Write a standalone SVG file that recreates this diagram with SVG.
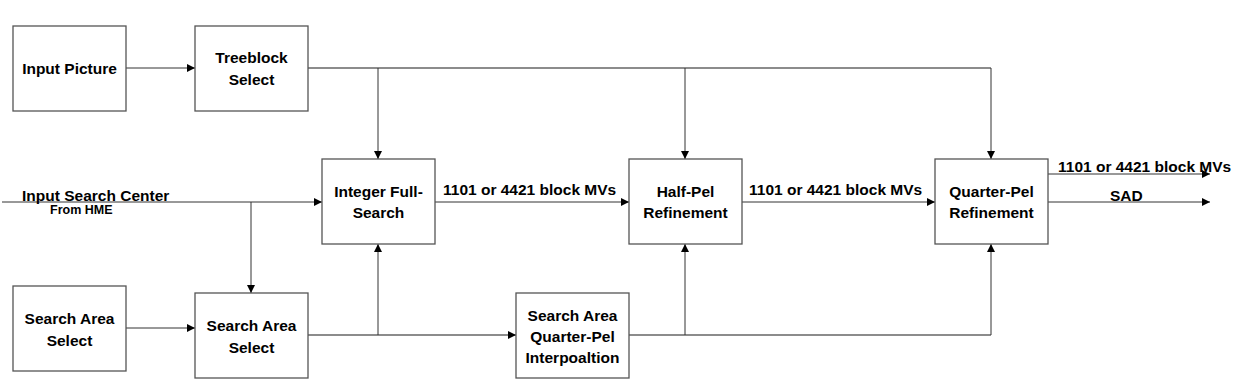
<svg xmlns="http://www.w3.org/2000/svg" width="1248" height="383" viewBox="0 0 1248 383">
<style>
.box{fill:#fff;stroke:#555;stroke-width:1.3}
.t{font-family:"Liberation Sans",Arial,sans-serif;font-weight:bold;font-size:15.5px;fill:#000;text-anchor:middle}
.l{font-family:"Liberation Sans",Arial,sans-serif;font-weight:bold;font-size:15.5px;fill:#000}
.s{font-family:"Liberation Sans",Arial,sans-serif;font-weight:bold;font-size:12.5px;fill:#000}
.c{fill:none;stroke:#333;stroke-width:1}
.g{fill:none;stroke:#666;stroke-width:1.3}
</style>
<defs>
<marker id="a" viewBox="0 0 10 10" refX="10" refY="5" markerWidth="8" markerHeight="8" markerUnits="userSpaceOnUse" orient="auto">
<path d="M0,0L10,5L0,10z" fill="#000"/>
</marker>
</defs>
<rect width="1248" height="383" fill="#fff"/>
<g id="connectors">
<path class="c" d="M126,68H195" marker-end="url(#a)"/>
<path class="g" d="M308,68H991"/>
<path class="c" d="M378,68V159" marker-end="url(#a)"/>
<path class="c" d="M685,68V159" marker-end="url(#a)"/>
<path class="c" d="M991,68V159" marker-end="url(#a)"/>
<path class="c" d="M2,202H322" marker-end="url(#a)"/>
<path class="c" d="M251,202V293" marker-end="url(#a)"/>
<path class="c" d="M126,328H195" marker-end="url(#a)"/>
<path class="g" d="M308,335H516" marker-end="url(#a)"/>
<path class="c" d="M378,335V244" marker-end="url(#a)"/>
<path class="g" d="M629,335H991"/>
<path class="c" d="M685,335V244" marker-end="url(#a)"/>
<path class="c" d="M991,335V244" marker-end="url(#a)"/>
<path class="c" d="M435,202H629" marker-end="url(#a)"/>
<path class="c" d="M742,202H935" marker-end="url(#a)"/>
<path class="c" d="M1048,174H1210" marker-end="url(#a)"/>
<path class="c" d="M1048,202H1210" marker-end="url(#a)"/>
<text class="l" x="443" y="195">1101 or 4421 block MVs</text>
<text class="l" x="749" y="195">1101 or 4421 block MVs</text>
<text class="l" x="1058" y="172">1101 or 4421 block MVs</text>
<text class="l" x="1110" y="201">SAD</text>
<text class="l" x="22" y="201">Input Search Center</text>
<text class="s" x="50" y="214">From HME</text>
</g>
<g id="input-picture"><rect class="box" x="13" y="26" width="113" height="85"/><text class="t" x="69.5" y="74">Input Picture</text></g>
<g id="treeblock-select"><rect class="box" x="195" y="26" width="113" height="85"/><text class="t" x="251.5" y="63">Treeblock</text><text class="t" x="251.5" y="85">Select</text></g>
<g id="integer-full-search"><rect class="box" x="322" y="159" width="113" height="85"/><text class="t" x="378.5" y="197">Integer Full-</text><text class="t" x="378.5" y="218">Search</text></g>
<g id="half-pel"><rect class="box" x="629" y="159" width="113" height="85"/><text class="t" x="685.5" y="197">Half-Pel</text><text class="t" x="685.5" y="218">Refinement</text></g>
<g id="quarter-pel"><rect class="box" x="935" y="159" width="113" height="85"/><text class="t" x="991.5" y="197">Quarter-Pel</text><text class="t" x="991.5" y="218">Refinement</text></g>
<g id="search-area-select-1"><rect class="box" x="13" y="286" width="113" height="85"/><text class="t" x="69.5" y="324">Search Area</text><text class="t" x="69.5" y="346">Select</text></g>
<g id="search-area-select-2"><rect class="box" x="195" y="293" width="113" height="85"/><text class="t" x="251.5" y="331">Search Area</text><text class="t" x="251.5" y="353">Select</text></g>
<g id="interpolation"><rect class="box" x="516" y="293" width="113" height="85"/><text class="t" x="572.5" y="321">Search Area</text><text class="t" x="572.5" y="342">Quarter-Pel</text><text class="t" x="572.5" y="363">Interpoaltion</text></g>
</svg>
